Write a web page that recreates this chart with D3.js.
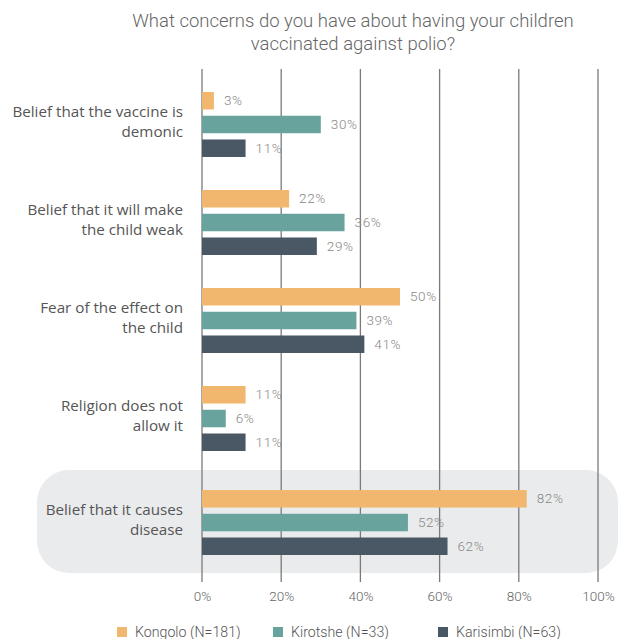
<!DOCTYPE html>
<html>
<head>
<meta charset="utf-8">
<script src="https://cdn.jsdelivr.net/npm/d3@7"></script>
<style>
  html, body { margin: 0; padding: 0; background: #fff; }
  svg { display: block; }
</style>
</head>
<body>
<svg id="chart" width="618" height="639"></svg>
<script>
// Survey question and answer categories
const titleLines = ["What concerns do you have about having your children", "vaccinated against polio?"];
const categories = [
  "Belief that the vaccine is demonic",
  "Belief that it will make the child weak",
  "Fear of the effect on the child",
  "Religion does not allow it",
  "Belief that it causes disease"
];
const categoryLines = [
  ["Belief that the vaccine is", "demonic"],
  ["Belief that it will make", "the child weak"],
  ["Fear of the effect on", "the child"],
  ["Religion does not", "allow it"],
  ["Belief that it causes", "disease"]
];
const highlighted = "Belief that it causes disease";

// Health zones (series)
const seriesNames = ["Kongolo (N=181)", "Kirotshe (N=33)", "Karisimbi (N=63)"];
const seriesColors = ["#F2B76E", "#68A39E", "#4A5764"];

// Percentages per category, one array per series
const kongolo   = [3, 22, 50, 11, 82];
const kirotshe  = [30, 36, 39, 6, 52];
const karisimbi = [11, 29, 41, 11, 62];
const seriesValues = [kongolo, kirotshe, karisimbi];

const xTicks = [0, 20, 40, 60, 80, 100];

const svg = d3.select("#chart");

const x = d3.scaleLinear().domain([0, 100]).range([202, 598]);

const y0 = d3.scaleBand().domain(categories).range([92, 549]).paddingInner(0.337).paddingOuter(0);
const highlightGap = 6;
const groupTop = c => y0(c) + (c === highlighted ? highlightGap : 0);

const y1 = d3.scaleBand().domain(d3.range(seriesNames.length)).range([0, y0.bandwidth()]).paddingInner(0.263).paddingOuter(0);

// Highlight band behind the last category
const hb = groupTop(highlighted);
svg.append("rect")
  .attr("x", 37)
  .attr("y", hb - 20)
  .attr("width", 581)
  .attr("height", y0.bandwidth() + 38)
  .attr("rx", 32).attr("ry", 32)
  .attr("fill", "#EAEBED");

// Title
svg.append("text")
  .attr("x", 353).attr("y", 27)
  .attr("text-anchor", "middle")
  .attr("font-family", "Roboto, 'Liberation Sans', sans-serif")
  .attr("font-size", 18.5)
  .attr("font-weight", 300)
  .attr("fill", "#666")
  .selectAll("tspan").data(titleLines).join("tspan")
  .attr("x", 353)
  .attr("dy", (d, i) => i === 0 ? 0 : 23)
  .text(d => d);

// Vertical gridlines
svg.append("g")
  .selectAll("line").data(xTicks).join("line")
  .attr("x1", d => x(d)).attr("x2", d => x(d))
  .attr("y1", 69).attr("y2", 582)
  .attr("stroke", "#7a7a7a")
  .attr("stroke-width", 1.3);

// Bars
const flat = [];
categories.forEach((c, ci) => {
  seriesValues.forEach((vals, si) => flat.push({ c, ci, si, v: vals[ci] }));
});

const barG = svg.append("g");
barG.selectAll("rect").data(flat).join("rect")
  .attr("x", x(0))
  .attr("y", d => groupTop(d.c) + y1(d.si))
  .attr("width", d => x(d.v) - x(0))
  .attr("height", y1.bandwidth())
  .attr("fill", d => seriesColors[d.si]);

// Value labels
barG.selectAll("text").data(flat).join("text")
  .attr("x", d => x(d.v) + 10)
  .attr("y", d => groupTop(d.c) + y1(d.si) + y1.bandwidth() / 2)
  .attr("dy", "0.35em")
  .attr("font-family", "Roboto, 'Liberation Sans', sans-serif")
  .attr("font-size", 13.5)
  .attr("font-weight", 300)
  .attr("letter-spacing", 0.6)
  .attr("fill", "#888")
  .text(d => d.v + "%");

// Category labels
const catG = svg.append("g");
categories.forEach((c, ci) => {
  const mid = groupTop(c) + y0.bandwidth() / 2;
  const lines = categoryLines[ci];
  catG.append("text")
    .attr("text-anchor", "end")
    .attr("font-family", "'Open Sans', 'Noto Sans', sans-serif")
    .attr("font-size", 15.2)
    .attr("fill", "#555")
    .selectAll("tspan").data(lines).join("tspan")
    .attr("x", 183)
    .attr("y", (d, i) => mid - 3 + (i - (lines.length - 1) / 2) * 20)
    .attr("dy", "0.35em")
    .text(d => d);
});

// X axis tick labels
const xAxis = d3.axisBottom(x).tickValues(xTicks).tickFormat(d => d + "%").tickSize(0).tickPadding(0);
const axG = svg.append("g").attr("transform", "translate(0,591)").call(xAxis);
axG.select(".domain").remove();
axG.selectAll("text")
  .attr("font-family", "Roboto, 'Liberation Sans', sans-serif")
  .attr("font-size", 13.5)
  .attr("font-weight", 300)
  .attr("fill", "#666");

// Legend
const legendX = [117, 273, 438];
const lg = svg.append("g");
seriesNames.forEach((name, i) => {
  lg.append("rect")
    .attr("x", legendX[i]).attr("y", 627)
    .attr("width", 10).attr("height", 10)
    .attr("fill", seriesColors[i]);
  lg.append("text")
    .attr("x", legendX[i] + 18).attr("y", 632)
    .attr("dy", "0.35em")
    .attr("font-family", "Roboto, 'Liberation Sans', sans-serif")
    .attr("font-size", 14.2)
    .attr("font-weight", 300)
    .attr("fill", "#555")
    .text(name);
});
</script>
</body>
</html>
